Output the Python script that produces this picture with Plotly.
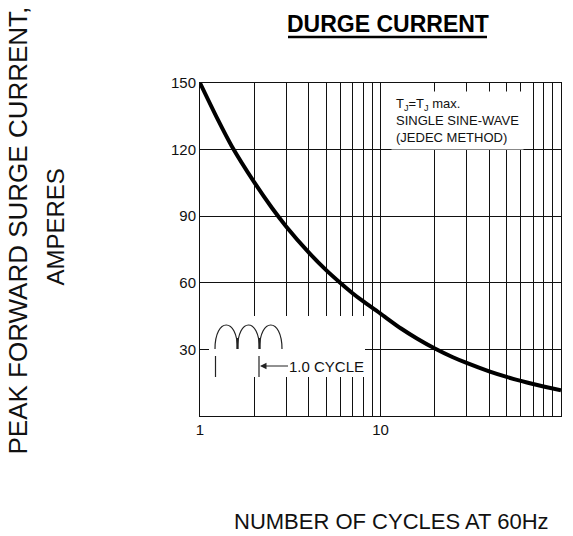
import plotly.graph_objects as go

# ---- data ----
cycles = [1, 1.25, 1.5, 2, 2.5, 3, 4, 5, 6, 7, 8, 10,
          13, 16, 20, 25, 30, 40, 50, 60, 70, 80, 100]
current = [150, 133.8, 121.5, 105.2, 93.8, 85.4, 73.7, 65.7, 59.9, 55.3, 51.7, 46.1,
           39.4, 34.8, 30.4, 26.6, 23.9, 20.1, 17.6, 15.8, 14.4, 13.3, 11.6]

x_tickvals = [1, 10, 100]
x_ticktext = ["1", "10", "100"]
x_minor_vals = [2, 3, 4, 5, 6, 7, 8, 9, 20, 30, 40, 50, 60, 70, 80, 90]
y_tickvals = [30, 60, 90, 120, 150]
y_ticktext = ["30", "60", "90", "120", "150"]

title_text = "<b>DURGE CURRENT</b>"
ytitle_line1 = "PEAK FORWARD SURGE CURRENT,"
ytitle_line2 = "AMPERES"
xtitle_text = "NUMBER OF CYCLES AT 60Hz"
note_text = "T<sub>J</sub>=T<sub>J</sub> max.<br>SINGLE SINE-WAVE<br>(JEDEC METHOD)"
cycle_text = "1.0 CYCLE"

# ---- layout geometry (pixels) ----
W_FIG, H_FIG = 573, 536
L, R, T, B = 200, 12, 83, 120
PW = W_FIG - L - R
PH = H_FIG - T - B


def px(X):
    return (X - L) / PW


def py(Y):
    return (H_FIG - B - Y) / PH


FONT = "Liberation Sans, Arial, sans-serif"
INK = "#111111"

fig = go.Figure()
fig.add_trace(go.Scatter(
    x=cycles, y=current, mode="lines",
    line=dict(color="#000000", width=4, shape="spline", smoothing=0.6),
    hoverinfo="skip", showlegend=False,
))

fig.update_xaxes(
    type="log", range=[0, 2],
    tickmode="array", tickvals=x_tickvals, ticktext=x_ticktext,
    showgrid=True, gridcolor=INK, gridwidth=1,
    minor=dict(tickmode="array", tickvals=x_minor_vals, showgrid=True,
               gridcolor=INK, gridwidth=1, ticks=""),
    showline=True, linecolor=INK, linewidth=1, mirror=True,
    ticks="", zeroline=False,
    tickfont=dict(family=FONT, size=15, color=INK),
)
fig.update_yaxes(
    range=[0, 150],
    tickmode="array", tickvals=y_tickvals, ticktext=y_ticktext,
    showgrid=True, gridcolor=INK, gridwidth=1,
    showline=True, linecolor=INK, linewidth=1, mirror=True,
    ticks="", zeroline=False,
    tickfont=dict(family=FONT, size=15, color=INK),
)

shapes = []
# white background behind the cycle inset
shapes.append(dict(type="rect", xref="paper", yref="paper",
                   x0=px(209), x1=px(365), y0=py(377), y1=py(316),
                   fillcolor="white", line=dict(width=0), layer="above"))
# three arches (rectified sine sketch)
xs = [215, 237.5, 259.5, 282]
yb, yt = 349, 325
for a, b in zip(xs[:-1], xs[1:]):
    c = yb - (yb - yt) * 4 / 3
    path = (f"M {px(a)},{py(yb)} C {px(a)},{py(c)} {px(b)},{py(c)} {px(b)},{py(yb)}")
    shapes.append(dict(type="path", xref="paper", yref="paper", path=path,
                       line=dict(color="#222222", width=1.2), layer="above"))
for j in xs[1:3]:
    shapes.append(dict(type="line", xref="paper", yref="paper",
                       x0=px(j), x1=px(j), y0=py(349), y1=py(338),
                       line=dict(color="#222222", width=2.2), layer="above"))
# cycle markers
for j in (215.5, 259):
    shapes.append(dict(type="line", xref="paper", yref="paper",
                       x0=px(j), x1=px(j), y0=py(377), y1=py(356),
                       line=dict(color="#222222", width=1.2), layer="above"))
# title underline
shapes.append(dict(type="line", xref="paper", yref="paper",
                   x0=px(288), x1=px(487), y0=py(37), y1=py(37),
                   line=dict(color="#000000", width=2.5)))

annotations = [
    dict(text=title_text, xref="paper", yref="paper", x=px(387.5), y=py(24),
         xanchor="center", yanchor="middle", showarrow=False,
         font=dict(family=FONT, size=23, color="#000")),
    dict(text=ytitle_line1, xref="paper", yref="paper", x=px(17.5), y=py(231),
         xanchor="center", yanchor="middle", showarrow=False, textangle=-90,
         font=dict(family=FONT, size=26, color=INK)),
    dict(text=ytitle_line2, xref="paper", yref="paper", x=px(55), y=py(227.5),
         xanchor="center", yanchor="middle", showarrow=False, textangle=-90,
         font=dict(family=FONT, size=24, color=INK)),
    dict(text=xtitle_text, xref="paper", yref="paper", x=px(391.5), y=py(521),
         xanchor="center", yanchor="middle", showarrow=False,
         font=dict(family=FONT, size=22, color=INK)),
    dict(text=note_text, xref="paper", yref="paper", x=px(391), y=py(91),
         xanchor="left", yanchor="top", showarrow=False, align="left",
         bgcolor="white", borderpad=4,
         font=dict(family=FONT, size=13, color=INK)),
    dict(text=cycle_text, xref="paper", yref="paper", x=px(260), y=py(366),
         ax=66, ay=0, axref="pixel", ayref="pixel",
         showarrow=True, arrowhead=2, arrowsize=1.3, arrowwidth=1, arrowcolor="#222",
         standoff=0, borderpad=0,
         font=dict(family=FONT, size=15, color=INK)),
]

fig.update_layout(
    width=W_FIG, height=H_FIG,
    margin=dict(l=L, r=R, t=T, b=B, pad=0),
    paper_bgcolor="white", plot_bgcolor="white",
    shapes=shapes, annotations=annotations,
    showlegend=False,
)

fig.write_html("out.html", config={"displayModeBar": False},
               post_script="document.body.style.margin='0';document.body.style.overflow='hidden';")
